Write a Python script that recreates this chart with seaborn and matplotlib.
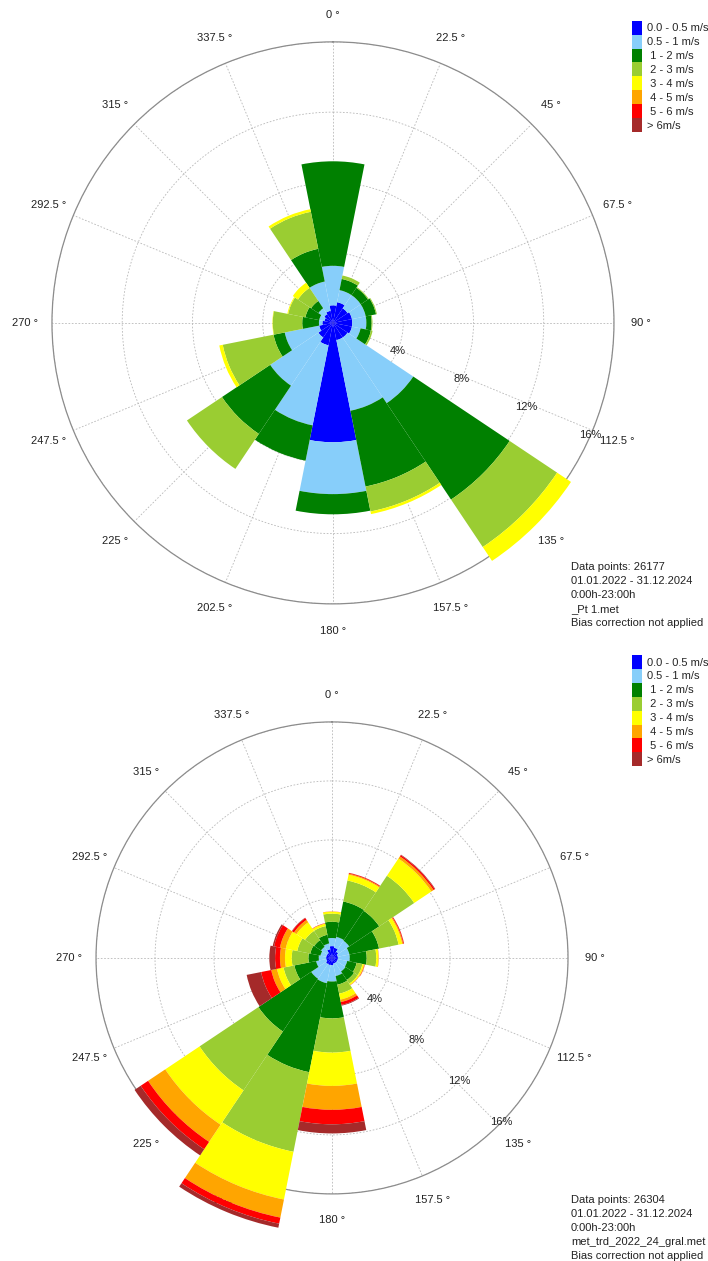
import numpy as np
import pandas as pd
import matplotlib
matplotlib.use("Agg")
import matplotlib.pyplot as plt
import seaborn as sns
from matplotlib.patches import Patch

# wind directions (deg, clockwise from north)
directions = [0, 22.5, 45, 67.5, 90, 112.5, 135, 157.5,
              180, 202.5, 225, 247.5, 270, 292.5, 315, 337.5]
dir_labels = ["0 °", "22.5 °", "45 °", "67.5 °", "90 °", "112.5 °", "135 °", "157.5 °",
              "180 °", "202.5 °", "225 °", "247.5 °", "270 °", "292.5 °", "315 °", "337.5 °"]

speed_classes = ["0.0 - 0.5 m/s", "0.5 - 1 m/s", " 1 - 2 m/s", " 2 - 3 m/s",
                 " 3 - 4 m/s", " 4 - 5 m/s", " 5 - 6 m/s", "> 6m/s"]
class_colors = ["#0000FF", "#87CEFA", "#008000", "#9ACD32",
                "#FFFF00", "#FFA500", "#FF0000", "#A52A2A"]

ring_values = [4, 8, 12, 16]
ring_labels = ["4%", "8%", "12%", "16%"]

# --- rose 1: _Pt 1.met (frequency in % per direction and speed class)
pt1_c0 = [1.0, 1.2, 1.0, 1.1, 1.1, 1.1, 1.0, 1.0, 6.8, 1.3, 1.0, 0.8, 0.6, 0.5, 0.6, 0.7]
pt1_c1 = [2.25, 0.7, 0.9, 0.8, 0.8, 0.5, 4.5, 4.1, 2.95, 4.65, 3.3, 2.0, 0.2, 0.3, 0.4, 1.7]
pt1_c2 = [5.95, 0.65, 0.5, 0.6, 0.3, 0.6, 6.6, 4.4, 1.15, 2.05, 3.3, 0.65, 0.95, 0.8, 0.5, 1.9]
pt1_c3 = [0, 0.2, 0.05, 0.05, 0.05, 0.1, 3.25, 1.45, 0, 0, 2.4, 2.95, 1.68, 1.0, 0.9, 2.15]
pt1_c4 = [0, 0, 0, 0, 0, 0, 0.95, 0.15, 0, 0, 0, 0.2, 0.02, 0.05, 0.35, 0.15]
pt1_c5 = [0] * 16
pt1_c6 = [0] * 16
pt1_c7 = [0] * 16

# --- rose 2: met_trd_2022_24_gral.met
gral_c0 = [0.8, 0.7, 0.5, 0.4, 0.4, 0.4, 0.4, 0.4, 0.5, 0.5, 0.5, 0.4, 0.4, 0.4, 0.4, 0.6]
gral_c1 = [0.55, 0.75, 0.9, 0.8, 0.8, 0.65, 0.7, 0.85, 1.1, 1.25, 1.2, 0.7, 0.5, 0.4, 0.5, 0.4]
gral_c2 = [1.1, 2.45, 2.45, 2.05, 1.15, 0.65, 0.7, 0.6, 2.5, 6.15, 4.3, 1.5, 0.7, 0.7, 0.55, 0.6]
gral_c3 = [0.55, 1.45, 2.85, 1.35, 0.65, 0.4, 0.3, 0.62, 2.32, 5.5, 4.8, 0.75, 1.13, 0.9, 0.75, 0.6]
gral_c4 = [0.14, 0.4, 1.4, 0.25, 0.15, 0.1, 0.1, 0.41, 2.26, 3.3, 2.8, 0.45, 0.46, 0.8, 0.7, 0.16]
gral_c5 = [0, 0.07, 0.18, 0.07, 0.01, 0.05, 0.02, 0.17, 1.62, 1.25, 1.4, 0.4, 0.34, 0.4, 0.2, 0.02]
gral_c6 = [0.01, 0.05, 0.1, 0.05, 0.01, 0.02, 0.01, 0.2, 0.98, 0.42, 0.6, 0.7, 0.33, 0.4, 0.15, 0.02]
gral_c7 = [0, 0.01, 0.04, 0.01, 0, 0, 0, 0.05, 0.62, 0.28, 0.5, 1.0, 0.39, 0.1, 0.03, 0]

pt1_info = ["Data points: 26177", "01.01.2022 - 31.12.2024", "0:00h-23:00h",
            "_Pt 1.met", "Bias correction not applied"]
gral_info = ["Data points: 26304", "01.01.2022 - 31.12.2024", "0:00h-23:00h",
             "met_trd_2022_24_gral.met", "Bias correction not applied"]


def make_table(cols):
    df = pd.DataFrame(np.array(cols).T, index=directions, columns=speed_classes)
    return df


def draw_rose(ax, df, rlabel_angle, dirlabel_r):
    ax.set_theta_zero_location("N")
    ax.set_theta_direction(-1)
    theta = np.deg2rad(df.index.values)
    width = 2 * np.pi / len(theta)
    bottom = np.zeros(len(theta))
    for cls, col in zip(df.columns, class_colors):
        vals = df[cls].values
        ax.bar(theta, vals, width=width, bottom=bottom, color=col,
               edgecolor="none", linewidth=0, clip_on=False, zorder=2)
        bottom = bottom + vals
    ax.set_ylim(0, 16)
    ax.set_xticks(theta)
    ax.set_xticklabels([])
    ax.set_yticks(ring_values)
    ax.set_yticklabels([])
    ax.set_axisbelow(True)
    ax.grid(True, color="#b8b8b8", linestyle=(0, (2, 2)), linewidth=0.6)
    ax.spines["polar"].set_color("#8c8c8c")
    ax.spines["polar"].set_linewidth(0.9)
    ax.spines["polar"].set_zorder(1)
    ax.tick_params(length=0)
    # direction labels sit below the bars (long bars hide them)
    for t, lab in zip(theta, dir_labels):
        ax.text(t, dirlabel_r, lab, ha="center", va="center",
                fontsize=8, color="#222222", zorder=1)
    for v, lab in zip(ring_values, ring_labels):
        ax.text(np.deg2rad(rlabel_angle), v, lab, ha="center", va="center",
                fontsize=8, color="#222222", zorder=5)


sns.set_theme(style="white")
plt.rcParams["font.family"] = ["Liberation Sans", "DejaVu Sans"]

fig = plt.figure(figsize=(7.08, 12.61), dpi=100)
fig.patch.set_facecolor("white")

ax1 = fig.add_axes([0.0734, 0.5211, 0.7938, 0.4457], projection="polar")
draw_rose(ax1, make_table([pt1_c0, pt1_c1, pt1_c2, pt1_c3, pt1_c4, pt1_c5, pt1_c6, pt1_c7]),
          113.5, 17.55)

ax2 = fig.add_axes([0.1356, 0.0532, 0.6667, 0.3743], projection="polar")
draw_rose(ax2, make_table([gral_c0, gral_c1, gral_c2, gral_c3, gral_c4, gral_c5, gral_c6, gral_c7]),
          134.0, 17.8)

palette = sns.color_palette(class_colors)
handles = [Patch(facecolor=c, edgecolor="none") for c in palette]
for top in [0.9836, 0.4806]:
    fig.legend(handles, speed_classes, loc="upper left", bbox_to_anchor=(0.8927, top),
               frameon=False, fontsize=8, handlelength=0.9, handleheight=1.55,
               labelspacing=0, handletextpad=0.45, borderpad=0, borderaxespad=0)

fig.text(0.8065, 1 - 562 / 1261, "\n".join(pt1_info), ha="left", va="top",
         fontsize=8, linespacing=1.5, color="#222222")
fig.text(0.8065, 1 - 1195 / 1261, "\n".join(gral_info), ha="left", va="top",
         fontsize=8, linespacing=1.5, color="#222222")

fig.savefig("out.png", dpi=100)
